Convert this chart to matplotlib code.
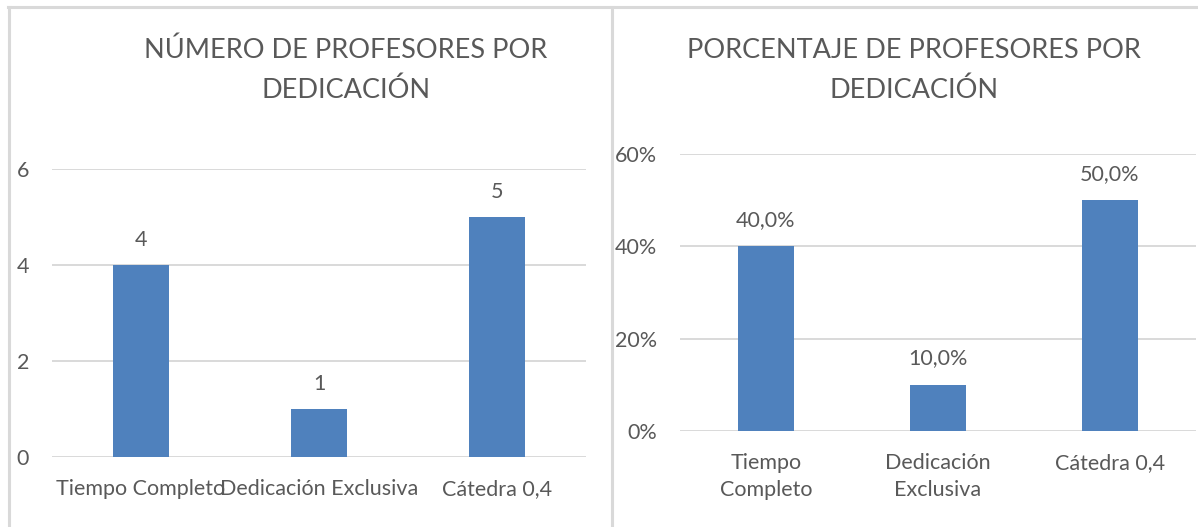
"""Profesores por dedicación: número y porcentaje, dos gráficos de barras
lado a lado (estilo Excel)."""

import matplotlib
matplotlib.use("Agg")
import matplotlib.pyplot as plt
from matplotlib.lines import Line2D
from matplotlib.ticker import FuncFormatter

plt.rcParams["font.family"] = ["Lato", "DejaVu Sans"]

# --- datos ---
categorias = ["Tiempo Completo", "Dedicación Exclusiva", "Cátedra 0,4"]
categorias_2l = ["Tiempo\nCompleto", "Dedicación\nExclusiva", "Cátedra 0,4"]
num_profesores = [4, 1, 5]
pct_profesores = [0.40, 0.10, 0.50]
ticks_num = [0, 2, 4, 6]
ticks_pct = [0.0, 0.2, 0.4, 0.6]
titulo_num = ["NÚMERO DE PROFESORES POR", "DEDICACIÓN"]
titulo_pct = ["PORCENTAJE DE PROFESORES POR", "DEDICACIÓN"]

AZUL = "#4F81BD"
GRIS_TXT = "#595959"
GRIS_LIN = "#D9D9D9"
W, H = 1198, 527


def caja(x0, y0, x1, y1):
    """Rectángulo en píxeles (origen arriba-izquierda) -> fracción de figura."""
    return [x0 / W, 1 - y1 / H, (x1 - x0) / W, (y1 - y0) / H]


def estilo(ax, pad_x):
    for s in ax.spines.values():
        s.set_visible(False)
    ax.tick_params(length=0, labelsize=15.5, colors=GRIS_TXT)
    ax.tick_params(axis="y", pad=16.5)
    ax.tick_params(axis="x", pad=pad_x)
    ax.grid(axis="y", color=GRIS_LIN, lw=1.4)
    ax.set_axisbelow(True)
    ax.set_xlim(-0.5, 2.5)


fig = plt.figure(figsize=(W / 100, H / 100), dpi=100)

# gráfico izquierdo: número
ax1 = fig.add_axes(caja(52, 169, 586, 457))
ax1.bar(range(3), num_profesores, width=0.31, color=AZUL, zorder=2)
ax1.set_ylim(0, 6)
ax1.set_yticks(ticks_num)
ax1.set_xticks(range(3), categorias)
estilo(ax1, 16)
for i, v in enumerate(num_profesores):
    ax1.annotate(str(v), (i, v), xytext=(0, 18), textcoords="offset points",
                 ha="center", va="center", fontsize=15.5, color=GRIS_TXT)

# gráfico derecho: porcentaje (fondo blanco tapa el borde del izquierdo)
ax2 = fig.add_axes(caja(680, 154, 1196, 431))
ax2.bar(range(3), pct_profesores, width=0.32, color=AZUL, zorder=2)
ax2.set_ylim(0, 0.6)
ax2.set_yticks(ticks_pct)
ax2.yaxis.set_major_formatter(FuncFormatter(lambda v, _: f"{v*100:.0f}%"))
ax2.set_xticks(range(3), categorias_2l, va="top", linespacing=1.45)
estilo(ax2, 16)
for i, v in enumerate(pct_profesores):
    ax2.annotate(f"{v*100:.1f}%".replace(".", ","), (i, v), xytext=(0, 19),
                 textcoords="offset points", ha="center", va="center",
                 fontsize=15.5, color=GRIS_TXT)

# títulos
for x, lineas in ((346, titulo_num), (914, titulo_pct)):
    for y, linea in zip((50, 90), lineas):
        fig.text(x / W, 1 - y / H, linea, ha="center", va="center",
                 fontsize=19.5, color=GRIS_TXT)

# bordes de los marcos de los gráficos
for xs, ys in (([8, W], [7, 7]), ([9, 9], [7, H]), ([612, 612], [7, H])):
    fig.add_artist(Line2D([x / W for x in xs], [1 - y / H for y in ys],
                          color=GRIS_LIN, lw=2.2))

fig.savefig("out.png", dpi=100)
